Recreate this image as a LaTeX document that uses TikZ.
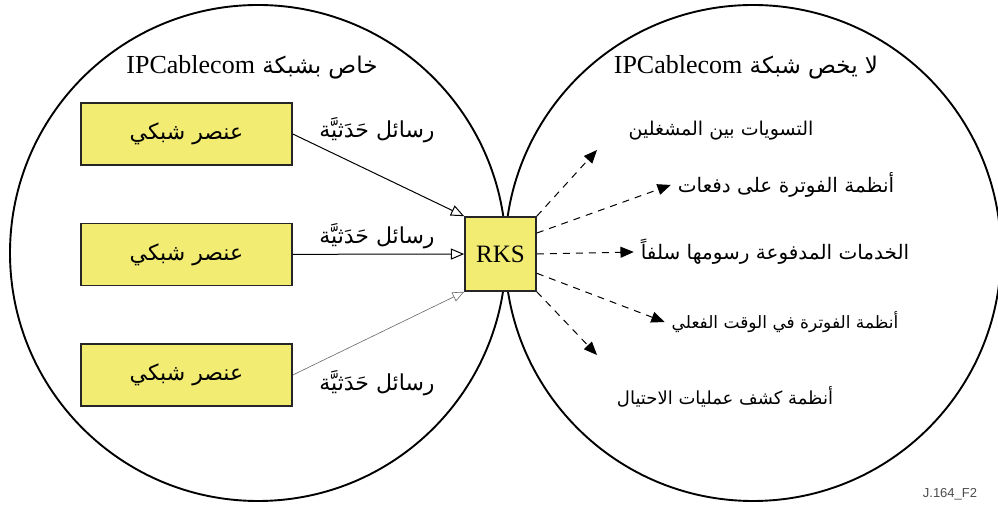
\documentclass[tikz,border=0pt]{standalone}
\usepackage{fontspec}
\setmainfont{Liberation Serif}
\setsansfont{Liberation Sans}
\newfontfamily\arabicfont[Script=Arabic]{DejaVu Sans}
\TeXXeTstate=1
\usetikzlibrary{arrows}
\usetikzlibrary{positioning}
\definecolor{elemyellow}{RGB}{243,236,115}
\newcommand{\artext}[1]{\beginR #1\endR}
\newcommand{\ipcname}{\beginL{\rmfamily\fontsize{13}{15}\selectfont IPCablecom}\endL}
\tikzset{
    font={\fontsize{12.5}{15}\selectfont},
    arsize/.style={font={\arabicfont\fontsize{#1}{13}\selectfont}},
    arsize/.default=11,
    zone/.style={
           draw=black, line width=0.95pt,
           },
    element/.style={
           rectangle,
           draw=black!85, line width=0.8pt,
           fill=elemyellow,
           minimum width=105.5pt,
           minimum height=31pt,
           inner sep=1pt,
           text centered,
           arsize,
           },
    server/.style={element, minimum width=35.5pt, minimum height=37pt, font={\fontsize{12.5}{15}\selectfont}},
    event/.style={draw=black, line width=0.5pt, -open triangle 45},
    feed/.style={draw=black, line width=0.5pt, dash pattern=on 3.5pt off 3pt, -triangle 45},
}

\begin{document}
\begin{tikzpicture}[x=0.5pt,y=-0.5pt]
\useasboundingbox (0,0) rectangle (998,506);

% the two network zones
\draw[zone] (258,253) circle (248);
\draw[zone] (753,253) circle (248);

\node[arsize=11.5] (INSIDETITLE) at (252,67) {\artext{خاص بشبكة \ipcname}};
\node[arsize=11.5] (OUTSIDETITLE) at (746,67) {\artext{لا يخص شبكة \ipcname}};

% network elements
\node[element] (ELEMONE) at (186.5,134) {\artext{عنصر شبكي}};
\node[element, below of=ELEMONE, node distance=60.25pt] (ELEMTWO) {\artext{عنصر شبكي}};
\node[element, below of=ELEMTWO, node distance=60.25pt] (ELEMTHREE) {\artext{عنصر شبكي}};

% record keeping server
\node[server] (RKS) at (500.5,254) {RKS};

\node[arsize] (MSGONE) at (377,130) {\artext{رسائل حَدَثيَّة}};
\node[arsize] (MSGTWO) at (377,236) {\artext{رسائل حَدَثيَّة}};
\node[arsize] (MSGTHREE) at (377,383) {\artext{رسائل حَدَثيَّة}};

% back office systems
\node[arsize=9.5] (SETTLE) at (721,131) {\artext{التسويات بين المشغلين}};
\node[arsize=10] (BATCH) at (786,185) {\artext{أنظمة الفوترة على دفعات}};
\node[arsize=10] (PREPAID) at (775,252) {\artext{الخدمات المدفوعة رسومها سلفاً}};
\node[arsize=8.5] (REALTIME) at (785,322) {\artext{أنظمة الفوترة في الوقت الفعلي}};
\node[arsize=9] (FRAUD) at (725,397) {\artext{أنظمة كشف عمليات الاحتيال}};

\coordinate (SETTLETIP) at (597,150);
\coordinate (FRAUDTIP) at (597,355);

\node[text=black!70, font={\sffamily\fontsize{6.5}{8}\selectfont}] (FIGID) at (950,494) {J.164\_F2};

\path (ELEMONE.east)   edge[event]  (RKS.north west)
(ELEMTWO)   edge[event]  (RKS)
(ELEMTHREE.east)   edge[event, draw=black!60, line width=0.3pt]  (RKS.south west)
(RKS.north east)   edge[feed]  (SETTLETIP)
(RKS.30)   edge[feed]  (BATCH.west)
(RKS.east)   edge[feed]  (PREPAID.west)
(RKS.-28)   edge[feed]  (REALTIME.west)
(RKS.south east)   edge[feed]  (FRAUDTIP)
;

\end{tikzpicture}
\end{document}
